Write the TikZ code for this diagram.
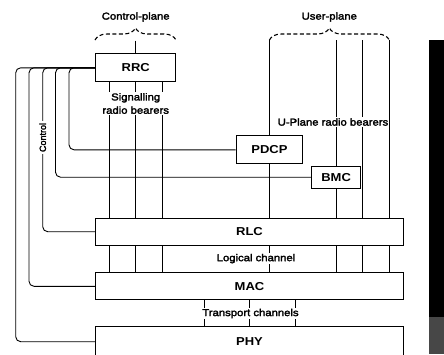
\documentclass[tikz,border=0pt]{standalone}
\usepackage{fontspec}
\setmainfont{Liberation Sans}[FakeStretch=1.13]
\newfontfamily\labf{Liberation Sans}[FakeStretch=1.13,FakeBold=2.5]
\newfontfamily\plainf{Liberation Sans}[FakeBold=2.5]
\usetikzlibrary{decorations.pathreplacing}
\begin{document}
\begin{tikzpicture}[x=1pt,y=-1pt,
  layerbox/.style={draw,line width=1pt,fill=white,inner sep=0pt,
    font=\fontsize{11.5}{13}\selectfont\bfseries},
  lab/.style={font=\labf\fontsize{10}{13.3}\selectfont,inner sep=1pt},
  wlab/.style={lab,fill=white},
  conn/.style={line width=0.9pt},
  plane/.style={line width=1.1pt,dash pattern=on 4pt off 2.5pt,
    decorate,decoration={brace,amplitude=12pt,aspect=0.5}}]
\useasboundingbox (0,0) rectangle (444,354);
% scanner edge bar
\fill[black] (429,40) rectangle (444,317);
\fill[black!72] (429,317) rectangle (444,354);
% boxes
\node[layerbox,minimum width=80pt,minimum height=27.7pt] (RRC) at (135.7,67.8) {RRC};
\node[layerbox,minimum width=66.7pt,minimum height=27.7pt] (PDCP) at (269.4,149.8) {PDCP};
\node[layerbox,minimum width=48.8pt,minimum height=22.3pt] (BMC) at (336.1,177.2) {BMC};
\node[layerbox,minimum width=307.6pt,minimum height=26.7pt] (RLC) at (249.5,231.7) {RLC};
\node[layerbox,minimum width=307.6pt,minimum height=27.3pt] (MAC) at (249.5,286.3) {MAC};
\node[layerbox,minimum width=307.6pt,minimum height=30pt] (PHY) at (249.5,341.7) {PHY};
% plane braces
\coordinate (cpL) at (95,40);
\coordinate (cpR) at (176,40);
\coordinate (upL) at (269.4,40);
\coordinate (upR) at (389.3,40);
\draw[plane] (cpL) -- (cpR);
\draw[plane] (upL) -- (upR);
\node[lab] (cptxt) at (135.7,17) {Control-plane};
\node[lab] (uptxt) at (329.3,17) {User-plane};
% control plane connectors
\draw[conn] (135.7,40.5) -- (RRC.north);
\foreach \x in {109,135.7,162.7}{
  \draw[conn] (\x,0 |- RRC.south) -- (\x,0 |- RLC.north);
  \draw[conn] (\x,0 |- RLC.south) -- (\x,0 |- MAC.north);
}
% user plane connectors
\draw[conn] (upL) -- (PDCP.north);
\draw[conn] (PDCP.south) -- (PDCP.south |- RLC.north);
\draw[conn] (PDCP.south |- RLC.south) -- (PDCP.south |- MAC.north);
\coordinate (u2) at (336.1,40);
\coordinate (u3) at (362.7,40);
\draw[conn] (u2) -- (BMC.north);
\draw[conn] (BMC.south) -- (BMC.south |- RLC.north);
\draw[conn] (BMC.south |- RLC.south) -- (BMC.south |- MAC.north);
\draw[conn] (u3) -- (u3 |- RLC.north);
\draw[conn] (u3 |- RLC.south) -- (u3 |- MAC.north);
\draw[conn] (upR) -- (upR |- RLC.north);
\draw[conn] (upR |- RLC.south) -- (upR |- MAC.north);
% transport channels
\foreach \x in {204,249.3,295}{
  \draw[conn] (\x,0 |- MAC.south) -- (\x,0 |- PHY.north);
}
% control lines from RRC
\draw[conn,rounded corners=5pt] (RRC.west) -- (RRC.west -| 15.7,0) -- (PHY.west -| 15.7,0) -- (PHY.west);
\draw[conn,rounded corners=5pt] (RRC.west) -- (RRC.west -| 29,0) -- (MAC.west -| 29,0) -- (MAC.west);
\draw[conn,rounded corners=5pt] (RRC.west) -- (RRC.west -| 42.7,0) -- (RLC.west -| 42.7,0) -- (RLC.west);
\draw[conn,rounded corners=5pt] (RRC.west) -- (RRC.west -| 55.5,0) -- (BMC.west -| 55.5,0) -- (BMC.west);
\draw[conn,rounded corners=5pt] (RRC.west) -- (RRC.west -| 69,0) -- (PDCP.west -| 69,0) -- (PDCP.west);
% labels
\node[wlab,align=center] (sig) at (135.7,103.5) {Signalling\\radio bearers};
\node[wlab] (upl) at (333,122) {U-Plane radio bearers};
\node[wlab] (log) at (256,258.6) {Logical channel};
\node[wlab,inner sep=0.5pt] (trc) at (250.5,313.5) {Transport channels};
\node[fill=white,inner sep=1.5pt,rotate=90,font=\plainf\fontsize{9}{10}\selectfont] (ctl) at (42.7,137.5) {Control};
\end{tikzpicture}
\end{document}
